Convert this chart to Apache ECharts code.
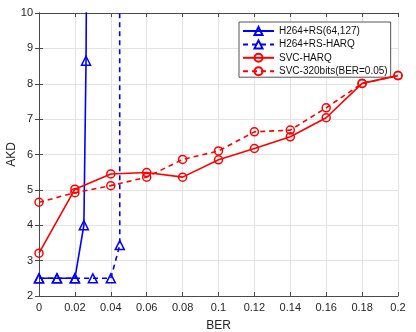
<!DOCTYPE html>
<html><head><meta charset="utf-8">
<script src="https://cdn.jsdelivr.net/npm/echarts@6/dist/echarts.min.js"></script>
<style>html,body{margin:0;padding:0;background:#fff}#c{width:416px;height:332px}</style>
</head><body><div id="c"></div>
<script>
// Data
const rsBer = [0, 0.01, 0.02, 0.025, 0.0262, 0.0268];
const rsAkd = [2.5, 2.5, 2.5, 4.0, 8.65, 14];
const rsHarqBer = [0, 0.01, 0.02, 0.03, 0.04, 0.045, 0.0449];
const rsHarqAkd = [2.5, 2.5, 2.5, 2.5, 2.5, 3.44, 14];
const svcBer = [0, 0.02, 0.04, 0.06, 0.08, 0.1, 0.12, 0.14, 0.16, 0.18, 0.2];
const svcHarqAkd = [3.21, 5.02, 5.45, 5.49, 5.36, 5.85, 6.17, 6.50, 7.04, 8.01, 8.23];
const svc320Akd = [4.65, 4.92, 5.12, 5.36, 5.86, 6.10, 6.64, 6.69, 7.32, 8.01, 8.23];
const seriesNames = ['H264+RS(64,127)', 'H264+RS-HARQ', 'SVC-HARQ', 'SVC-320bits(BER=0.05)'];
const xLabel = 'BER', yLabel = 'AKD';

const pairs = (xs, ys) => xs.map((x, i) => [x, ys[i]]);
const font = 'Liberation Sans, Arial, sans-serif';
const axisCol = '#4a4a4a';
const gridCol = '#e3e3e3';

function mk(name, data, color, dashed, symbol, size) {
  return {
    name, type: 'line', data, clip: true,
    symbol, symbolSize: size, showSymbol: true,
    lineStyle: { color, width: 1.6, type: dashed ? [5, 4] : 'solid' },
    itemStyle: { color: 'rgba(255,255,255,0)', borderColor: color, borderWidth: 1.5 },
    emphasis: { disabled: true }, animation: false, z: 5
  };
}

const chart = echarts.init(document.getElementById('c'), null, { renderer: 'canvas' });
const fmt = v => String(Number(v.toFixed(3)));
chart.setOption({
  animation: false,
  backgroundColor: '#fff',
  grid: { left: 39, right: 18, top: 13, bottom: 36, containLabel: false, outerBoundsMode: 'none' },
  legend: {
    data: seriesNames, orient: 'vertical', left: 239, top: 22,
    padding: [4, 3, 1, 3], itemGap: 3.4, itemWidth: 31, itemHeight: 10,
    backgroundColor: '#fff', borderColor: '#555', borderWidth: 1, borderRadius: 0,
    textStyle: { fontFamily: font, fontSize: 10, color: '#111', lineHeight: 10 }
  },
  xAxis: [{
    type: 'value', min: 0, max: 0.2, interval: 0.02,
    name: xLabel, nameLocation: 'middle', nameGap: 24, nameMoveOverlap: false,
    nameTextStyle: { fontFamily: font, fontSize: 12, color: '#262626' },
    axisLine: { show: true, lineStyle: { color: axisCol, width: 1 } },
    axisTick: { show: true, inside: true, length: 4, lineStyle: { color: axisCol } },
    axisLabel: { fontFamily: font, fontSize: 11, color: '#262626', margin: 6, formatter: fmt },
    splitLine: { show: true, lineStyle: { color: gridCol, width: 1 } }
  }, {
    type: 'value', position: 'top', min: 0, max: 0.2, interval: 0.02,
    axisLine: { show: true, lineStyle: { color: axisCol, width: 1 } },
    axisTick: { show: true, inside: true, length: 4, lineStyle: { color: axisCol } },
    axisLabel: { show: false }, splitLine: { show: false }
  }],
  yAxis: [{
    type: 'value', min: 2, max: 10, interval: 1,
    name: yLabel, nameLocation: 'middle', nameGap: 21, nameRotate: 90, nameMoveOverlap: false,
    nameTextStyle: { fontFamily: font, fontSize: 12, color: '#262626' },
    axisLine: { show: true, lineStyle: { color: axisCol, width: 1 } },
    axisTick: { show: true, inside: true, length: 4, lineStyle: { color: axisCol } },
    axisLabel: { fontFamily: font, fontSize: 11, color: '#262626', margin: 6 },
    splitLine: { show: true, lineStyle: { color: gridCol, width: 1 } }
  }, {
    type: 'value', position: 'right', min: 2, max: 10, interval: 1,
    axisLine: { show: true, lineStyle: { color: axisCol, width: 1 } },
    axisTick: { show: true, inside: true, length: 4, lineStyle: { color: axisCol } },
    axisLabel: { show: false }, splitLine: { show: false }
  }],
  series: [
    mk(seriesNames[0], pairs(rsBer, rsAkd), '#0000ff', false, 'triangle', 9),
    mk(seriesNames[1], pairs(rsHarqBer, rsHarqAkd), '#0000ff', true, 'triangle', 9),
    mk(seriesNames[2], pairs(svcBer, svcHarqAkd), '#ff0000', false, 'circle', 8),
    mk(seriesNames[3], pairs(svcBer, svc320Akd), '#ff0000', true, 'circle', 8)
  ]
});
</script></body></html>
